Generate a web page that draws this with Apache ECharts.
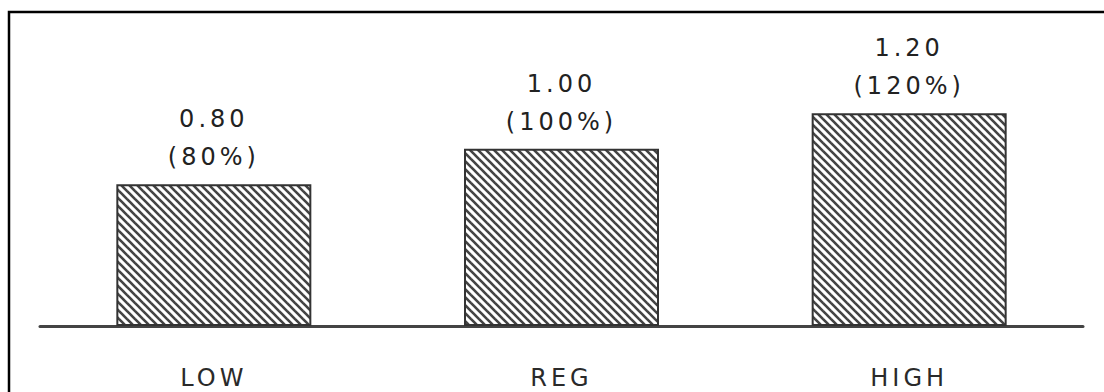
<!DOCTYPE html>
<html>
<head>
<meta charset="utf-8">
<title>LOW / REG / HIGH</title>
<script src="https://cdn.jsdelivr.net/npm/echarts@6/dist/echarts.min.js"></script>
<style>
  html, body { margin: 0; padding: 0; background: #fff; }
  #main { width: 1104px; height: 392px; }
  /* 原图文字字距较宽 */
  #main text { letter-spacing: 4px; }
</style>
</head>
<body>
<div id="main"></div>
<script>
// 数据
const categories = ['LOW', 'REG', 'HIGH']
const factorValues = [0.80, 1.00, 1.20]
const percentLabels = ['80%', '100%', '120%']

// 斜线填充 ( \\\ 方向 )
function makeHatch () {
  const n = 8
  const c = document.createElement('canvas')
  c.width = n
  c.height = n
  const ctx = c.getContext('2d')
  ctx.fillStyle = '#ffffff'
  ctx.fillRect(0, 0, n, n)
  ctx.strokeStyle = '#444'
  ctx.lineWidth = 2.6
  for (let k = -1; k <= 1; k++) {
    ctx.beginPath()
    ctx.moveTo(-1, -1 + k * n)
    ctx.lineTo(n + 1, n + 1 + k * n)
    ctx.stroke()
  }
  return c.toDataURL()
}

const chart = echarts.init(document.getElementById('main'), null, { renderer: 'svg' })

const option = {
  backgroundColor: '#ffffff',
  animation: false,
  grid: {
    left: 40,
    right: 21,
    top: 60,
    bottom: 66,
    containLabel: false
  },
  xAxis: {
    type: 'category',
    data: categories,
    axisLine: {
      lineStyle: { color: '#444', width: 3 }
    },
    axisTick: { show: false },
    axisLabel: {
      color: '#2a2a2a',
      fontFamily: 'DejaVu Sans',
      fontSize: 24,
      margin: 40
    }
  },
  yAxis: {
    type: 'value',
    min: 0,
    max: 1.5,
    show: false,
    splitLine: { show: false }
  },
  series: [
    {
      type: 'bar',
      data: factorValues,
      barWidth: 195,
      itemStyle: {
        color: { image: makeHatch(), repeat: 'repeat' },
        borderColor: '#333',
        borderWidth: 2
      },
      label: {
        show: true,
        position: 'top',
        distance: 8,
        color: '#222',
        fontFamily: 'DejaVu Sans',
        fontSize: 24,
        lineHeight: 38,
        formatter: p => p.value.toFixed(2) + '\n(' + percentLabels[p.dataIndex] + ')'
      }
    }
  ],
  // 外框 (左、上)
  graphic: [
    {
      type: 'polyline',
      shape: { points: [[9, 400], [9, 12], [1110, 12]] },
      style: { stroke: '#000', lineWidth: 2.5, fill: null }
    }
  ]
}

chart.setOption(option)
</script>
</body>
</html>
